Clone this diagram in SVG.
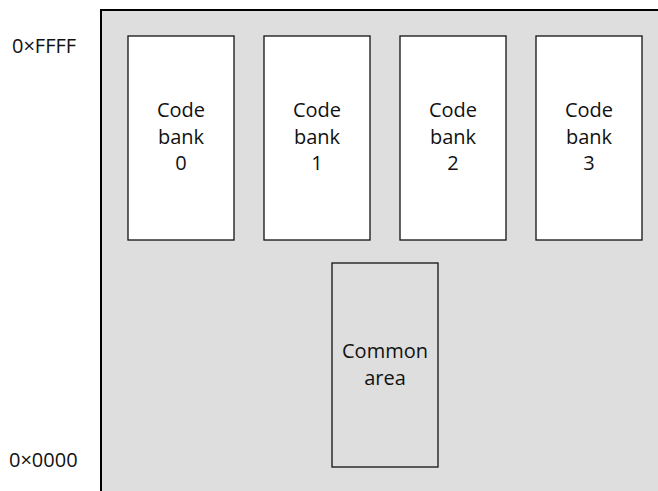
<svg xmlns="http://www.w3.org/2000/svg" width="658" height="491" viewBox="0 0 658 491">
<style>
.bg{fill:#dedede;stroke:#000;stroke-width:2}
.box{fill:#fff;stroke:#111;stroke-width:1.3}
.cbox{fill:#dedede;stroke:#111;stroke-width:1.3}
text{font-family:"Open Sans","Noto Sans",sans-serif;font-size:20px;fill:#111}
.c{text-anchor:middle}
</style>
<rect width="658" height="491" fill="#fff"/>
<g id="memory">
<rect class="bg" x="101" y="10" width="600" height="520"/>
</g>
<g id="label-top"><text x="12" y="53">0×FFFF</text></g>
<g id="label-bottom"><text x="9" y="467">0×0000</text></g>
<g id="bank0">
<rect class="box" x="128" y="36" width="106" height="204"/>
<text class="c" x="181" y="117">Code</text><text class="c" x="181" y="144">bank</text><text class="c" x="181" y="170">0</text>
</g>
<g id="bank1">
<rect class="box" x="264" y="36" width="106" height="204"/>
<text class="c" x="317" y="117">Code</text><text class="c" x="317" y="144">bank</text><text class="c" x="317" y="170">1</text>
</g>
<g id="bank2">
<rect class="box" x="400" y="36" width="106" height="204"/>
<text class="c" x="453" y="117">Code</text><text class="c" x="453" y="144">bank</text><text class="c" x="453" y="170">2</text>
</g>
<g id="bank3">
<rect class="box" x="536" y="36" width="106" height="204"/>
<text class="c" x="589" y="117">Code</text><text class="c" x="589" y="144">bank</text><text class="c" x="589" y="170">3</text>
</g>
<g id="common">
<rect class="cbox" x="332" y="263" width="106" height="204"/>
<text class="c" x="385" y="358">Common</text><text class="c" x="385" y="385">area</text>
</g>
<g id="connectors"/>
</svg>
